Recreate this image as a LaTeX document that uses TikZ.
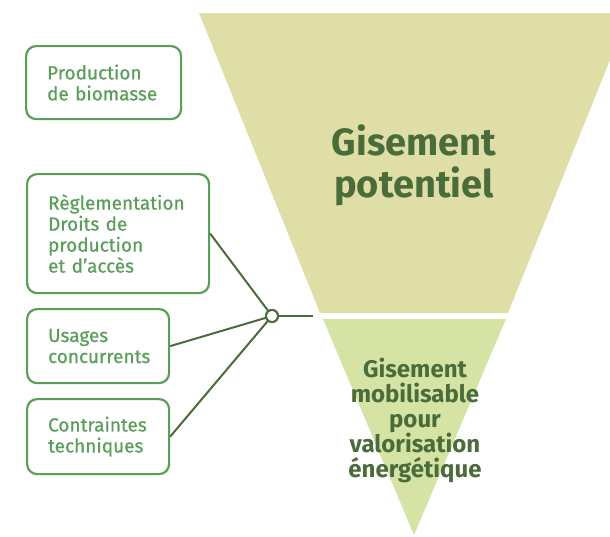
\documentclass[tikz,border=0pt]{standalone}
\usepackage{fontspec}
\setmainfont{Fira Sans}
\newfontfamily\boxfont{Fira Sans}[FakeBold=0.7]
\definecolor{khaki}{HTML}{DFDEA6}
\definecolor{lightgreen}{HTML}{D5E3A5}
\definecolor{darkgreen}{HTML}{4A6B3A}
\definecolor{boxgreen}{HTML}{5A9E5A}
\tikzset{
  factorbox/.style={draw=boxgreen, line width=2.2pt, rounded corners=10pt,
    text=boxgreen, align=left, inner xsep=21pt, inner ysep=0pt, anchor=north west,
    font=\boxfont\fontsize{19}{21}\selectfont},
  link/.style={draw=darkgreen, line width=2pt},
  junction/.style={circle, draw=darkgreen, fill=white, line width=2pt, inner sep=0pt, minimum size=12pt},
  bigtitle/.style={text=darkgreen, font=\bfseries\fontsize{38}{42}\selectfont, align=center},
  smalltitle/.style={text=darkgreen, font=\bfseries\fontsize{24}{25}\selectfont, align=center}
}
\begin{document}
\begin{tikzpicture}[x=1pt,y=-1pt]
\useasboundingbox (0,0) rectangle (610,536);
% funnel shapes
\fill[khaki] (199,13) -- (610,13) -- (610,60) -- (508,313) -- (320,313) -- cycle;
\fill[lightgreen] (323,319) -- (506,319) -- (414,535) -- cycle;
\node[bigtitle] (pot) at (414,165) {Gisement\\potentiel};
\node[smalltitle] (mob) at (415,420) {Gisement\\mobilisable\\pour\\valorisation\\énergétique};
% boxes
\node[factorbox, text width=113pt, minimum height=73pt] (b1) at (25,45) {Production\\de biomasse};
\node[factorbox, text width=140pt, minimum height=119pt] (b2) at (26,173) {Règlementation\\Droits de\\production\\et d’accès};
\node[factorbox, text width=100pt, minimum height=74pt] (b3) at (26,308) {Usages\\concurrents};
\node[factorbox, text width=100pt, minimum height=75pt] (b4) at (26,398) {Contraintes\\techniques};
% connectors
\coordinate (jend) at (313,316);
\node[junction] (j) at (272,316) {};
\draw[link] (b2.east) -- (j.center);
\draw[link] (b3.east) -- (j.center);
\draw[link] (b4.east) -- (j.center);
\draw[link] (j.center) -- (jend);
\node[junction] (j2) at (j.center) {};
\end{tikzpicture}
\end{document}
